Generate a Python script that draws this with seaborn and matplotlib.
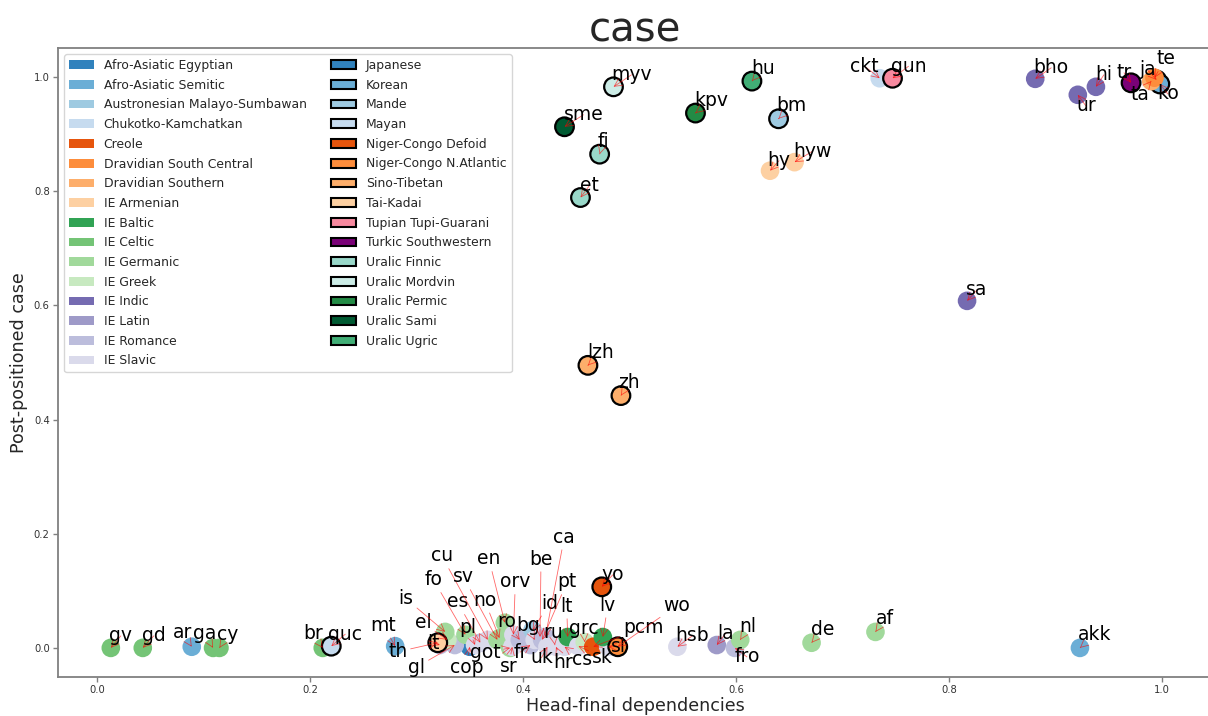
import matplotlib
matplotlib.use("Agg")
import matplotlib.pyplot as plt
import seaborn as sns
import pandas as pd
from matplotlib.patches import Patch

# ---------------- data ----------------
langs = ["gv", "gd", "ar", "ga", "cy", "br", "mt", "cop", "it", "gl", "el", "is", "fo", "es", "pl",
         "cu", "sv", "no", "en", "got", "sr", "orv", "ro", "fr", "id", "bg", "be", "pt", "ca", "uk",
         "ru", "hr", "cs", "lt", "sk", "grc", "pcm", "sl", "lv", "hsb", "la", "fro", "nl", "de", "af",
         "akk", "hy", "hyw", "ckt", "sa", "bho", "ur", "hi",
         "quc", "th", "yo", "wo", "lzh", "zh", "sme", "et", "fi", "myv", "kpv", "hu", "bm", "gun",
         "tr", "ja", "ko", "ta", "te"]
family = ["IE Celtic", "IE Celtic", "Afro-Asiatic Semitic", "IE Celtic", "IE Celtic", "IE Celtic",
          "Afro-Asiatic Semitic", "Afro-Asiatic Egyptian", "IE Romance", "IE Romance", "IE Greek",
          "IE Germanic", "IE Germanic", "IE Romance", "IE Slavic",
          "IE Slavic", "IE Germanic", "IE Germanic", "IE Germanic", "IE Germanic", "IE Slavic",
          "IE Slavic", "IE Romance", "IE Romance", "Austronesian Malayo-Sumbawan", "IE Slavic",
          "IE Slavic", "IE Romance", "IE Romance", "IE Slavic",
          "IE Slavic", "IE Slavic", "IE Slavic", "IE Baltic", "IE Slavic", "IE Greek", "Creole",
          "IE Slavic", "IE Baltic", "IE Slavic", "IE Latin", "IE Romance", "IE Germanic",
          "IE Germanic", "IE Germanic",
          "Afro-Asiatic Semitic", "IE Armenian", "IE Armenian", "Chukotko-Kamchatkan", "IE Indic",
          "IE Indic", "IE Indic", "IE Indic",
          "Mayan", "Tai-Kadai", "Niger-Congo Defoid", "Niger-Congo N.Atlantic", "Sino-Tibetan",
          "Sino-Tibetan", "Uralic Sami", "Uralic Finnic", "Uralic Finnic", "Uralic Mordvin",
          "Uralic Permic", "Uralic Ugric", "Mande", "Tupian Tupi-Guarani",
          "Turkic Southwestern", "Japanese", "Korean", "Dravidian Southern", "Dravidian South Central"]
head_final = [0.013, 0.043, 0.089, 0.109, 0.115, 0.212, 0.280, 0.350, 0.322, 0.336, 0.329, 0.327,
              0.346, 0.360, 0.355,
              0.367, 0.376, 0.378, 0.383, 0.388, 0.390, 0.391, 0.397, 0.407, 0.409, 0.411, 0.416,
              0.418, 0.421, 0.423,
              0.430, 0.431, 0.439, 0.442, 0.452, 0.458, 0.466, 0.480, 0.475, 0.545, 0.582, 0.599,
              0.604, 0.671, 0.731,
              0.923, 0.632, 0.655, 0.735, 0.817, 0.881, 0.921, 0.938,
              0.220, 0.320, 0.474, 0.489, 0.461, 0.492, 0.439, 0.454, 0.472, 0.485, 0.562, 0.615,
              0.640, 0.747,
              0.971, 0.995, 0.998, 0.990, 0.993]
post_case = [0.000, 0.000, 0.002, 0.000, 0.000, 0.000, 0.003, 0.002, 0.005, 0.005, 0.014, 0.028,
             0.023, 0.009, 0.005,
             0.014, 0.014, 0.017, 0.044, 0.000, 0.002, 0.023, 0.014, 0.005, 0.031, 0.014, 0.019,
             0.014, 0.019, 0.002,
             0.005, 0.002, 0.002, 0.019, 0.003, 0.010, 0.002, 0.002, 0.019, 0.002, 0.005, 0.000,
             0.014, 0.009, 0.028,
             0.000, 0.836, 0.851, 0.998, 0.608, 0.997, 0.969, 0.983,
             0.003, 0.009, 0.107, 0.002, 0.495, 0.442, 0.913, 0.789, 0.865, 0.983, 0.937, 0.993,
             0.927, 0.998,
             0.990, 0.995, 0.988, 0.993, 0.999]

families_plain = ["Afro-Asiatic Egyptian", "Afro-Asiatic Semitic", "Austronesian Malayo-Sumbawan",
                  "Chukotko-Kamchatkan", "Creole", "Dravidian South Central", "Dravidian Southern",
                  "IE Armenian", "IE Baltic", "IE Celtic", "IE Germanic", "IE Greek", "IE Indic",
                  "IE Latin", "IE Romance", "IE Slavic"]
colors_plain = ["#3182bd", "#6baed6", "#9ecae1", "#c6dbef", "#e6550d", "#fd8d3c", "#fdae6b",
                "#fdd0a2", "#31a354", "#74c476", "#a1d99b", "#c7e9c0", "#756bb1", "#9e9ac8",
                "#bcbddc", "#dadaeb"]
families_edged = ["Japanese", "Korean", "Mande", "Mayan", "Niger-Congo Defoid",
                  "Niger-Congo N.Atlantic", "Sino-Tibetan", "Tai-Kadai", "Tupian Tupi-Guarani",
                  "Turkic Southwestern", "Uralic Finnic", "Uralic Mordvin", "Uralic Permic",
                  "Uralic Sami", "Uralic Ugric"]
colors_edged = ["#3182bd", "#6baed6", "#9ecae1", "#c6dbef", "#e6550d", "#fd8d3c", "#fdae6b",
                "#fdd0a2", "#f7899f", "#7a0177", "#99d8c9", "#ccece6", "#238b45", "#005a32",
                "#41ae76"]

# label text offsets (layout, pixels from the point)
label_offsets = {
    "gv": (10, 12), "gd": (11, 12), "ar": (-9, 14), "ga": (-8, 14), "cy": (8, 13), "br": (-10, 14),
    "mt": (-12, 21), "cop": (-3, -21), "it": (-6, 2), "gl": (-38, -22), "el": (-24, 17),
    "is": (-39, 33), "fo": (-32, 55), "es": (-23, 41), "pl": (-7, 18), "cu": (-46, 84),
    "sv": (-34, 63), "no": (-15, 38), "en": (-16, 64), "got": (-25, -5), "sr": (-4, -20),
    "orv": (2, 53), "ro": (-13, 18), "fr": (-10, -7), "id": (17, 27), "bg": (-7, 14),
    "be": (1, 78), "pt": (25, 58), "ca": (19, 100), "uk": (-6, -11), "ru": (-2, 13),
    "hr": (7, -16), "cs": (18, -13), "lt": (-1, 31), "sk": (24, -11), "grc": (-1, 14),
    "pcm": (50, 19), "sl": (10, 0), "lv": (5, 32), "hsb": (15, 11), "la": (9, 12),
    "fro": (12, -9), "nl": (8, 13), "de": (11, 13), "af": (9, 13), "akk": (15, 13),
    "hy": (9, 10), "hyw": (18, 11), "ckt": (-15, 12), "sa": (10, 11), "bho": (16, 11),
    "ur": (8, -11), "hi": (8, 12), "quc": (14, 12), "th": (-40, -9), "yo": (11, 12),
    "wo": (59, 41), "lzh": (13, 13), "zh": (8, 13), "sme": (19, 12), "et": (9, 12),
    "fi": (4, 13), "myv": (18, 12), "kpv": (16, 13), "hu": (11, 13), "bm": (13, 13),
    "gun": (16, 12), "tr": (-7, 10), "ja": (-9, 10), "ko": (8, -10), "ta": (-11, -13),
    "te": (11, 19),
}

# ---------------- plot ----------------
sns.set_style("white")
plt.rcParams["font.family"] = ["DejaVu Sans"]

df = pd.DataFrame({"lang": langs, "family": family, "x": head_final, "y": post_case})
palette = dict(zip(families_plain, colors_plain))
palette.update(dict(zip(families_edged, colors_edged)))
edged_set = set(families_edged)
edgecols = [(0, 0, 0, 1) if f in edged_set else (0, 0, 0, 0) for f in df["family"]]
lws = [1.6 if f in edged_set else 0.0 for f in df["family"]]

fig = plt.figure(figsize=(12.08, 7.16), dpi=100)
ax = fig.add_axes([58 / 1208, 39 / 716, (1212 - 58) / 1208, (677 - 48) / 716])

sns.scatterplot(data=df, x="x", y="y", hue="family", palette=palette, s=180,
                edgecolor=edgecols, linewidth=lws, legend=False, ax=ax, zorder=2)

for lang, xv, yv in zip(df["lang"], df["x"], df["y"]):
    dx, dy = label_offsets[lang]
    ax.annotate(lang, xy=(xv, yv), xytext=(dx, dy), textcoords="offset pixels",
                ha="center", va="center", fontsize=13.5, color="black", zorder=3,
                arrowprops=dict(arrowstyle="->", color="red", lw=0.6, alpha=0.6,
                                shrinkA=0, shrinkB=0))

ax.set_xlim(-0.0366, 1.047)
ax.set_ylim(-0.051, 1.051)
ax.set_xticks([0.0, 0.2, 0.4, 0.6, 0.8, 1.0])
ax.set_yticks([0.0, 0.2, 0.4, 0.6, 0.8, 1.0])
ax.tick_params(axis="both", labelsize=7.2, colors="#333333", length=3.5, width=1,
               bottom=True, left=True, pad=2.5)
ax.tick_params(axis="both", color="#808080")
for sp in ax.spines.values():
    sp.set_color("#808080")
    sp.set_linewidth(1.3)

ax.set_xlabel("Head-final dependencies", fontsize=12.6, labelpad=1)
ax.set_ylabel("Post-positioned case", fontsize=12.6, labelpad=4)
ax.set_title("case", fontsize=29, pad=5)

handles = [Patch(facecolor=c, edgecolor="none", label=f) for f, c in zip(families_plain, colors_plain)]
handles += [Patch(facecolor=c, edgecolor="black", linewidth=1.5, label=f)
            for f, c in zip(families_edged, colors_edged)]
ax.legend(handles=handles, loc="upper left", ncol=2, fontsize=8.9, frameon=True,
          borderaxespad=0.5, labelspacing=0.54)

fig.savefig("out.png", dpi=100)
